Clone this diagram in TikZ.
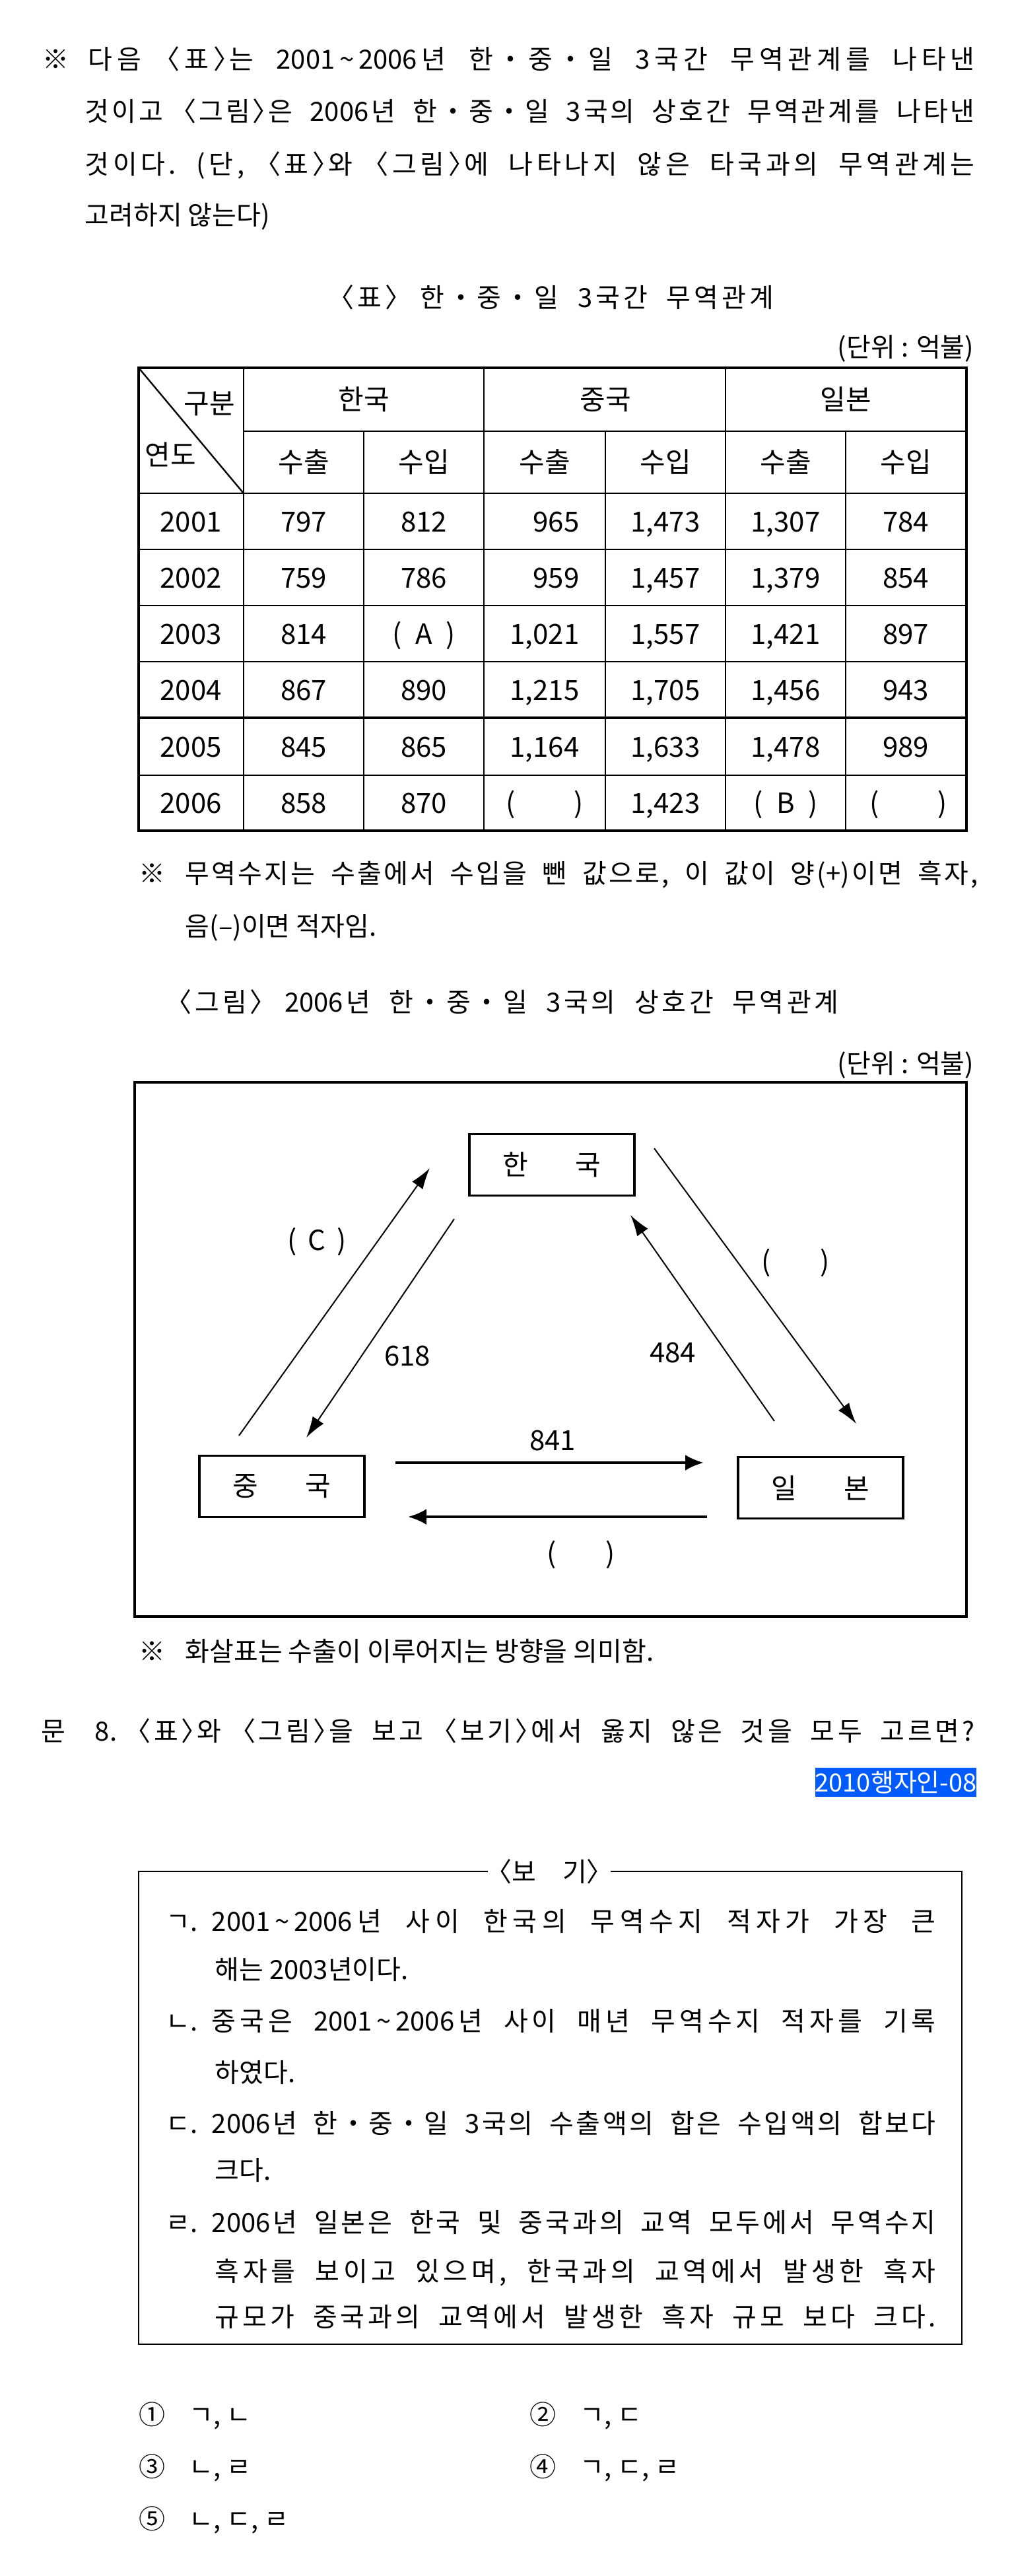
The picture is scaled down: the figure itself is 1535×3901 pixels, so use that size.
\documentclass[tikz,border=0pt]{standalone}
\usepackage{fontspec}
\setmainfont{Noto Sans CJK KR}
\usetikzlibrary{arrows.meta}
\definecolor{tagblue}{RGB}{0,91,255}
\newcommand{\tld}{\char`\~}
\newcommand{\lbk}{\kern-0.4em〈}
\newcommand{\rbk}{〉\kern-0.4em}
% spread justified lines between syllables as well as words
\count255="AC00
\loop
  \XeTeXcharclass\count255=10
  \ifnum\count255<"D7A3 \advance\count255 by 1
\repeat
\XeTeXinterchartoks 10 10 = {\hskip0pt plus 1pt}
\XeTeXinterchartoks 10 0 = {\hskip0pt plus 1pt}
\XeTeXinterchartoks 0 10 = {\hskip0pt plus 1pt}
\newcommand{\jline}[2]{{\frenchspacing\XeTeXinterchartokenstate=1 \spaceskip=0.35em plus 3pt\makebox[#1][s]{#2}}}

\begin{document}
\begin{tikzpicture}[x=0.25pt, y=-0.25pt,
  txt/.style={inner sep=0pt, text height=0.85em, text depth=0.1em, anchor=west, font=\fontsize{10pt}{12pt}\selectfont},
  cell/.style={txt, anchor=center, font=\fontsize{10.5pt}{12pt}\selectfont},
  cbox/.style={draw, line width=0.8pt, inner sep=0pt, minimum width=62.5pt, minimum height=23.25pt, font=\fontsize{10.5pt}{12pt}\selectfont},
  arr/.style={line width=0.5pt, -{Latex[length=8pt,width=5pt]}},
  harr/.style={line width=1pt, -{Latex[length=7pt,width=6pt]}},
  tline/.style={line width=0.6pt}]
\path[fill=white, use as bounding box] (0,0) rectangle (1535,3901);

% question text
\node[txt] (m0) at (64,89) {※};
\node[txt] (m1) at (133,89) {\jline{335.75pt}{다음 \lbk 표\rbk 는 2001\,\tld\,2006년 한・중・일 3국간 무역관계를 나타낸}};
\node[txt] (m2) at (128,168) {\jline{337pt}{것이고 \lbk 그림\rbk 은 2006년 한・중・일 3국의 상호간 무역관계를 나타낸}};
\node[txt] (m3) at (128,248) {\jline{337pt}{것이다. (단, \lbk 표\rbk 와 \lbk 그림\rbk 에 나타나지 않은 타국과의 무역관계는}};
\node[txt] (m4) at (128,325) {고려하지 않는다)};

% table
\node[txt] (tt) at (512,450) {\jline{164.75pt}{\lbk 표\rbk\ 한・중・일 3국간 무역관계}};
\node[txt, anchor=east] (tu) at (1476,525) {(단위 : 억불)};

\draw[line width=0.8pt] (210,557) rectangle (1464,1258);
\draw[tline] (369,653) -- (1464,653);
\draw[tline] (210,747) -- (1464,747);
\draw[tline] (210,832) -- (1464,832);
\draw[tline] (210,917) -- (1464,917);
\draw[tline] (210,1002) -- (1464,1002);
\draw[tline, line width=0.9pt] (210,1087) -- (1464,1087);
\draw[tline] (210,1174) -- (1464,1174);
\draw[tline] (369,557) -- (369,1258);
\draw[tline] (733,557) -- (733,1258);
\draw[tline] (1099,557) -- (1099,1258);
\draw[tline] (551,653) -- (551,1258);
\draw[tline] (917,653) -- (917,1258);
\draw[tline] (1281,653) -- (1281,1258);
\draw[tline] (210,557) -- (369,747);

\node[cell, anchor=east] (h0) at (357,611) {구분};
\node[cell, anchor=west] (h1) at (219,689) {연도};
\node[cell] (hk) at (551,605) {한국};
\node[cell] (hc) at (917,605) {중국};
\node[cell] (hj) at (1281,605) {일본};
\node[cell] (s1) at (460,700) {수출};
\node[cell] (s2) at (642,700) {수입};
\node[cell] (s3) at (825,700) {수출};
\node[cell] (s4) at (1008,700) {수입};
\node[cell] (s5) at (1190,700) {수출};
\node[cell] (s6) at (1372,700) {수입};

\node[cell] (r1c0) at (289,790) {2001};
\node[cell] (r1c1) at (460,790) {797};
\node[cell] (r1c2) at (642,790) {812};
\node[cell] (r1c3) at (825,790) {\phantom{1,}965};
\node[cell] (r1c4) at (1008,790) {1,473};
\node[cell] (r1c5) at (1190,790) {1,307};
\node[cell] (r1c6) at (1372,790) {784};

\node[cell] (r2c0) at (289,875) {2002};
\node[cell] (r2c1) at (460,875) {759};
\node[cell] (r2c2) at (642,875) {786};
\node[cell] (r2c3) at (825,875) {\phantom{1,}959};
\node[cell] (r2c4) at (1008,875) {1,457};
\node[cell] (r2c5) at (1190,875) {1,379};
\node[cell] (r2c6) at (1372,875) {854};

\node[cell] (r3c0) at (289,960) {2003};
\node[cell] (r3c1) at (460,960) {814};
\node[cell] (r3c2) at (642,960) {(\hspace{0.5em}A\hspace{0.5em})};
\node[cell] (r3c3) at (825,960) {1,021};
\node[cell] (r3c4) at (1008,960) {1,557};
\node[cell] (r3c5) at (1190,960) {1,421};
\node[cell] (r3c6) at (1372,960) {897};

\node[cell] (r4c0) at (289,1045) {2004};
\node[cell] (r4c1) at (460,1045) {867};
\node[cell] (r4c2) at (642,1045) {890};
\node[cell] (r4c3) at (825,1045) {1,215};
\node[cell] (r4c4) at (1008,1045) {1,705};
\node[cell] (r4c5) at (1190,1045) {1,456};
\node[cell] (r4c6) at (1372,1045) {943};

\node[cell] (r5c0) at (289,1131) {2005};
\node[cell] (r5c1) at (460,1131) {845};
\node[cell] (r5c2) at (642,1131) {865};
\node[cell] (r5c3) at (825,1131) {1,164};
\node[cell] (r5c4) at (1008,1131) {1,633};
\node[cell] (r5c5) at (1190,1131) {1,478};
\node[cell] (r5c6) at (1372,1131) {989};

\node[cell] (r6c0) at (289,1216) {2006};
\node[cell] (r6c1) at (460,1216) {858};
\node[cell] (r6c2) at (642,1216) {870};
\node[cell] (r6c3) at (825,1216) {(\hspace{2.1em})};
\node[cell] (r6c4) at (1008,1216) {1,423};
\node[cell] (r6c5) at (1190,1216) {(\hspace{0.5em}B\hspace{0.5em})};
\node[cell] (r6c6) at (1376,1216) {(\hspace{2.1em})};

\node[txt] (n0) at (210,1322) {※};
\node[txt] (n1) at (280,1322) {\jline{300.25pt}{무역수지는 수출에서 수입을 뺀 값으로, 이 값이 양(+)이면 흑자,}};
\node[txt] (n2) at (280,1402) {음(–)이면 적자임.};

% figure
\node[txt] (fc) at (266,1517) {\jline{251pt}{\lbk 그림\rbk\ 2006년 한・중・일 3국의 상호간 무역관계}};
\node[txt, anchor=east] (fu) at (1476,1610) {(단위 : 억불)};
\draw[line width=1pt] (204,1639) rectangle (1464,2448);

\node[cbox] (kr) at (836,1764) {한\hspace{1.7em}국};
\node[cbox] (cn) at (427,2251) {중\hspace{1.7em}국};
\node[cbox] (jp) at (1243,2253) {일\hspace{1.7em}본};

\coordinate (ck1) at (362,2174);
\coordinate (ck2) at (651,1769);
\coordinate (kc1) at (688,1846);
\coordinate (kc2) at (464,2177);
\coordinate (jk1) at (1173,2152);
\coordinate (jk2) at (955,1840);
\coordinate (kj1) at (991,1739);
\coordinate (kj2) at (1297,2156);
\coordinate (cj1) at (599,2215);
\coordinate (cj2) at (1066,2215);
\coordinate (jc1) at (1071,2297);
\coordinate (jc2) at (618,2297);

\draw[arr] (ck1) -- (ck2);
\draw[arr] (kc1) -- (kc2);
\draw[arr] (jk1) -- (jk2);
\draw[arr] (kj1) -- (kj2);
\draw[harr] (cj1) -- (cj2);
\draw[harr] (jc1) -- (jc2);

\node[cell] (lck) at (480,1878) {(\hspace{0.4em}C\hspace{0.4em})};
\node[cell] (lkc) at (617,2053) {618};
\node[cell] (ljk) at (1019,2048) {484};
\node[cell] (lkj) at (1205,1910) {(\hspace{1.8em})};
\node[cell] (lcj) at (837,2181) {841};
\node[cell] (ljc) at (880,2352) {(\hspace{1.8em})};

\node[txt] (a0) at (210,2500) {※};
\node[txt] (a1) at (280,2500) {화살표는 수출이 이루어지는 방향을 의미함.};

% question
\node[txt] (q0) at (62,2621) {문};
\node[txt] (q1) at (143,2621) {\jline{333.25pt}{8. \lbk 표\rbk 와 \lbk 그림\rbk 을 보고 \lbk 보기\rbk 에서 옳지 않은 것을 모두 고르면?}};
\node[fill=tagblue, text=white, inner sep=0pt, minimum width=59.25pt, minimum height=11pt, font=\fontsize{9.5pt}{10pt}\selectfont] (tag) at (1357,2699) {2010행자인-08};

% box
\draw[line width=0.6pt] (210,2834) rectangle (1457,3550);
\node[txt, anchor=center, fill=white, inner xsep=3pt] (bg) at (832,2834) {\lbk 보\hspace{1em}기\rbk};
\node[txt] (i1) at (251,2909) {ㄱ.};
\node[txt] (i1a) at (320,2909) {\jline{274.25pt}{2001\,\tld\,2006년 사이 한국의 무역수지 적자가 가장 큰}};
\node[txt] (i1b) at (325,2982) {해는 2003년이다.};
\node[txt] (i2) at (251,3060) {ㄴ.};
\node[txt] (i2a) at (320,3060) {\jline{274.25pt}{중국은 2001\,\tld\,2006년 사이 매년 무역수지 적자를 기록}};
\node[txt] (i2b) at (325,3138) {하였다.};
\node[txt] (i3) at (251,3215) {ㄷ.};
\node[txt] (i3a) at (320,3215) {\jline{274.25pt}{2006년 한・중・일 3국의 수출액의 합은 수입액의 합보다}};
\node[txt] (i3b) at (325,3286) {크다.};
\node[txt] (i4) at (251,3365) {ㄹ.};
\node[txt] (i4a) at (320,3365) {\jline{274.25pt}{2006년 일본은 한국 및 중국과의 교역 모두에서 무역수지}};
\node[txt] (i4b) at (325,3439) {\jline{273pt}{흑자를 보이고 있으며, 한국과의 교역에서 발생한 흑자}};
\node[txt] (i4c) at (325,3508) {\jline{273pt}{규모가 중국과의 교역에서 발생한 흑자 규모 보다 크다.}};

% choices
\node[txt] (o1) at (210,3656) {①\hspace{0.9em}ㄱ, ㄴ};
\node[txt] (o2) at (802,3656) {②\hspace{0.9em}ㄱ, ㄷ};
\node[txt] (o3) at (210,3735) {③\hspace{0.9em}ㄴ, ㄹ};
\node[txt] (o4) at (802,3735) {④\hspace{0.9em}ㄱ, ㄷ, ㄹ};
\node[txt] (o5) at (210,3814) {⑤\hspace{0.9em}ㄴ, ㄷ, ㄹ};
\end{tikzpicture}
\end{document}
